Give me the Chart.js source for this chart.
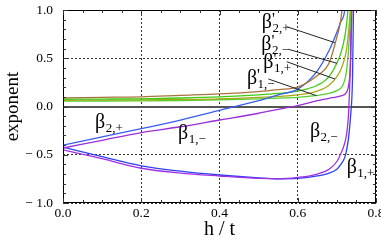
<!DOCTYPE html>
<html>
<head>
<meta charset="utf-8">
<script src="https://cdn.jsdelivr.net/npm/chart.js@4/dist/chart.umd.min.js"></script>
<style>
  html, body { margin: 0; padding: 0; background: #fff; }
  #wrap { width: 381px; height: 242px; }
</style>
</head>
<body>
<div id="wrap"><canvas id="myChart" width="381" height="242"></canvas></div>
<script>
  // h / t sample points shared by every curve
  const h = [0, 0.1, 0.2, 0.3, 0.4, 0.5, 0.55, 0.6, 0.65, 0.68, 0.7, 0.71, 0.72, 0.725, 0.73, 0.735, 0.74, 0.745];

  const betaP2plus  = [0.09, 0.095, 0.10, 0.115, 0.13, 0.155, 0.175, 0.20, 0.32, 0.45, 0.72, 0.9, 1.3, 1.6, 2.0, 2.5, 3.0, 3.5];
  const beta2plus   = [-0.40, -0.315, -0.23, -0.14, -0.04, 0.06, 0.12, 0.18, 0.37, 0.58, 0.77, 0.88, 1.0, 1.3, 1.6, 2.0, 2.5, 3.0];
  const betaP2minus = [0.075, 0.077, 0.08, 0.088, 0.10, 0.12, 0.135, 0.16, 0.22, 0.31, 0.45, 0.55, 0.72, 0.86, 1.1, 1.4, 1.8, 2.4];
  const betaP1plus  = [0.065, 0.066, 0.068, 0.073, 0.08, 0.095, 0.105, 0.12, 0.16, 0.22, 0.31, 0.38, 0.5, 0.6, 0.78, 1.05, 1.5, 2.0];
  const betaP1minus = [0.055, 0.056, 0.058, 0.062, 0.07, 0.08, 0.087, 0.095, 0.115, 0.135, 0.165, 0.19, 0.27, 0.38, 0.6, 0.95, 1.5, 2.0];
  const beta1minus  = [-0.43, -0.35, -0.27, -0.21, -0.14, -0.07, -0.03, 0.01, 0.06, 0.085, 0.10, 0.11, 0.125, 0.15, 0.22, 0.45, 1.3, 2.0];
  const beta2minus  = [-0.45, -0.54, -0.64, -0.69, -0.72, -0.745, -0.75, -0.735, -0.70, -0.65, -0.57, -0.49, -0.38, -0.28, -0.06, 0.55, 2.0, 3.0];
  const beta1plus   = [-0.42, -0.52, -0.615, -0.67, -0.71, -0.74, -0.75, -0.745, -0.72, -0.69, -0.65, -0.6, -0.53, -0.45, -0.32, -0.1, 0.3, 1.8];

  const xTicks = [0, 0.2, 0.4, 0.6, 0.8];
  const yTicks = [-1, -0.5, 0, 0.5, 1];

  // curve labels: subscript, primed, anchor (h, value) of the label start
  const labelSubs   = ["2,+", "2,\u2212", "1,+", "1,\u2212", "2,+", "1,\u2212", "2,\u2212", "1,+"];
  const labelPrimed = [true, true, true, true, false, false, false, false];
  const labelAt = [[0.508, 0.813], [0.507, 0.59], [0.512, 0.40], [0.470, 0.238],
                   [0.082, -0.223], [0.294, -0.337], [0.631, -0.316], [0.725, -0.69]];
  // leader lines for the primed labels
  const leaders = [[0.572, 0.827, 0.695, 0.661], [0.576, 0.593, 0.700, 0.448],
                   [0.572, 0.464, 0.695, 0.285], [0.525, 0.285, 0.648, 0.112]];

  const pts = (ys) => h.map((x, i) => ({ x: x, y: ys[i] }));

  function curve(ys, color) {
    return {
      data: pts(ys),
      borderColor: color,
      borderWidth: 1.3,
      pointRadius: 0,
      fill: false,
      cubicInterpolationMode: "monotone",
    };
  }

  const serif = '"Liberation Serif", "DejaVu Serif", serif';

  const decor = {
    id: "decor",
    beforeDatasetsDraw(chart) {
      const { ctx, chartArea: a, scales: { y } } = chart;
      const y0 = Math.round(y.getPixelForValue(0));
      ctx.save();
      ctx.strokeStyle = "#555";
      ctx.lineWidth = 2;
      ctx.beginPath();
      ctx.moveTo(a.left, y0);
      ctx.lineTo(a.right, y0);
      ctx.stroke();
      ctx.restore();
    },
    afterDatasetsDraw(chart) {
      const { ctx, chartArea: a, scales: { x, y } } = chart;
      ctx.save();
      // frame
      ctx.strokeStyle = "#000";
      ctx.lineWidth = 1;
      ctx.strokeRect(Math.round(a.left) + 0.5, Math.round(a.top) + 0.5,
        Math.round(a.right - a.left) - 1, Math.round(a.bottom - a.top) - 1);
      // inward ticks
      ctx.strokeStyle = "#333";
      ctx.beginPath();
      for (let i = 0; i <= 16; i++) {
        const v = i * 0.05;
        const px = Math.round(x.getPixelForValue(v)) + 0.5;
        const len = i % 4 === 0 ? 5 : 3;
        ctx.moveTo(px, a.bottom); ctx.lineTo(px, a.bottom - len);
        ctx.moveTo(px, a.top); ctx.lineTo(px, a.top + len);
      }
      for (let i = 0; i <= 20; i++) {
        const v = -1 + i * 0.1;
        const py = Math.round(y.getPixelForValue(v)) + 0.5;
        const len = i % 5 === 0 ? 5 : 3;
        ctx.moveTo(a.left, py); ctx.lineTo(a.left + len, py);
        ctx.moveTo(a.right, py); ctx.lineTo(a.right - len, py);
      }
      ctx.stroke();
      // leader lines
      ctx.strokeStyle = "#222";
      ctx.lineWidth = 1;
      leaders.forEach(([x1, y1, x2, y2]) => {
        ctx.beginPath();
        ctx.moveTo(x.getPixelForValue(x1), y.getPixelForValue(y1));
        ctx.lineTo(x.getPixelForValue(x2), y.getPixelForValue(y2));
        ctx.stroke();
      });
      // beta labels
      ctx.fillStyle = "#000";
      ctx.textBaseline = "alphabetic";
      ctx.textAlign = "left";
      labelAt.forEach(([lx, ly], i) => {
        let px = x.getPixelForValue(lx);
        const py = y.getPixelForValue(ly);
        ctx.font = "20px " + serif;
        ctx.fillText("\u03b2", px, py);
        px += ctx.measureText("\u03b2").width;
        if (labelPrimed[i]) {
          ctx.font = "16px " + serif;
          ctx.fillText("'", px, py - 4);
        }
        ctx.font = "13px " + serif;
        ctx.fillText(labelSubs[i], px + 0.5, py + 4);
      });
      ctx.restore();
    },
  };

  const fmt = (v) => (v < 0 ? "\u2212 " + Math.abs(v).toFixed(1) : v.toFixed(1));

  const config = {
    type: "line",
    data: {
      datasets: [
        curve(betaP2plus, "#a8743c"),
        curve(beta2plus, "#3a5cf0"),
        curve(betaP2minus, "#3ccc14"),
        curve(betaP1plus, "#a8a816"),
        curve(betaP1minus, "#55d030"),
        curve(beta1minus, "#9a2ed8"),
        curve(beta2minus, "#a030e8"),
        curve(beta1plus, "#3040ee"),
      ],
    },
    options: {
      responsive: false,
      animation: false,
      layout: { padding: { top: 10, right: 5, left: 0, bottom: 0 } },
      plugins: { legend: { display: false }, tooltip: { enabled: false } },
      scales: {
        x: {
          type: "linear",
          min: 0,
          max: 0.8,
          afterBuildTicks: (s) => { s.ticks = xTicks.map((v) => ({ value: v })); },
          afterFit: (s) => { s.height = 39; s.paddingLeft = 0; s.paddingRight = 0; },
          ticks: { callback: fmt, color: "#000", padding: 2, maxRotation: 0,
                   font: { family: serif, size: 13.5 } },
          grid: { color: "#333", lineWidth: 1, drawTicks: false, tickLength: 0 },
          border: { display: false, dash: [2, 2] },
          title: { display: true, text: "h / t", color: "#000", padding: 0,
                   font: { family: serif, size: 20, lineHeight: 1.2 } },
        },
        y: {
          min: -1,
          max: 1,
          afterBuildTicks: (s) => { s.ticks = yTicks.map((v) => ({ value: v })); },
          afterFit: (s) => { s.width = 63; s.paddingTop = 0; s.paddingBottom = 0; },
          ticks: { callback: fmt, color: "#000", padding: 10,
                   font: { family: serif, size: 13.5 } },
          grid: { color: "#333", lineWidth: 1, drawTicks: false, tickLength: 0 },
          border: { display: false, dash: [2, 2] },
          title: { display: true, text: "exponent", color: "#000", padding: { top: 4, bottom: 0 },
                   font: { family: serif, size: 19, lineHeight: 1.0 } },
        },
      },
    },
    plugins: [decor],
  };

  new Chart(document.getElementById("myChart"), config);
</script>
</body>
</html>
